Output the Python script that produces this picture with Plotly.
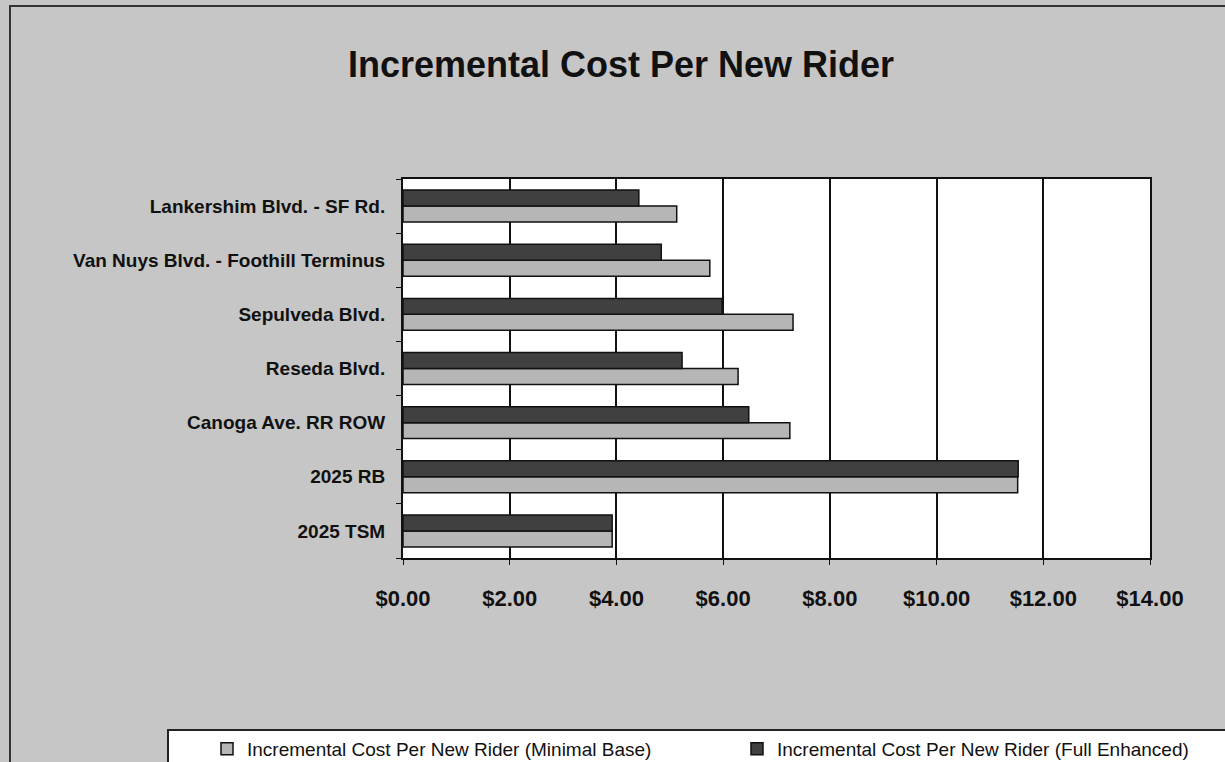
import plotly.graph_objects as go

# Categories listed top-to-bottom as in the chart
categories = [
    "Lankershim Blvd. - SF Rd.",
    "Van Nuys Blvd. - Foothill Terminus",
    "Sepulveda Blvd.",
    "Reseda Blvd.",
    "Canoga Ave. RR ROW",
    "2025 RB",
    "2025 TSM",
]
minimal_base = [5.13, 5.75, 7.31, 6.28, 7.25, 11.52, 3.92]
full_enhanced = [4.42, 4.84, 5.98, 5.23, 6.48, 11.53, 3.92]
x_ticks = [0, 2, 4, 6, 8, 10, 12, 14]
x_tick_labels = ["$0.00", "$2.00", "$4.00", "$6.00", "$8.00", "$10.00", "$12.00", "$14.00"]

series_names = [
    "Incremental Cost Per New Rider (Minimal Base)",
    "Incremental Cost Per New Rider (Full Enhanced)",
]

W, H = 1225, 762
L, R, T, B = 403, 1150, 179, 558
FONT = "Liberation Sans, Arial, sans-serif"


def px_x(p):
    return (p - L) / (R - L)


def px_y(p):
    return (B - p) / (B - T)


fig = go.Figure()
fig.add_trace(go.Bar(
    y=categories, x=minimal_base, orientation="h", name=series_names[0],
    marker=dict(color="#b6b6b6", line=dict(color="#111111", width=1.5)),
    legend="legend",
))
fig.add_trace(go.Bar(
    y=categories, x=full_enhanced, orientation="h", name=series_names[1],
    marker=dict(color="#404040", line=dict(color="#111111", width=1.5)),
    legend="legend2",
))

# legend background box extending beyond right/bottom edges
fig.add_shape(type="rect", xref="paper", yref="paper",
              x0=px_x(168), x1=px_x(1240), y0=px_y(780), y1=px_y(730),
              fillcolor="white", line=dict(color="#222222", width=2), layer="below")
# outer frame (top & left)
fig.add_shape(type="rect", xref="paper", yref="paper",
              x0=px_x(10), x1=px_x(1240), y0=px_y(780), y1=px_y(6),
              fillcolor="rgba(0,0,0,0)", line=dict(color="#333333", width=2), layer="below")

legend_common = dict(
    orientation="h", xanchor="left", yanchor="middle",
    bgcolor="rgba(0,0,0,0)", borderwidth=0,
    font=dict(size=19, color="#111111", family=FONT),
    itemclick=False, itemdoubleclick=False,
)

fig.update_layout(
    width=W, height=H,
    margin=dict(l=L, r=W - R, t=T, b=H - B, autoexpand=False),
    paper_bgcolor="#c6c6c6",
    plot_bgcolor="white",
    barmode="group",
    bargap=0.41,
    bargroupgap=0,
    title=dict(
        text="<b>Incremental Cost Per New Rider</b>",
        x=621 / W, xanchor="center", y=1 - 64 / H, yanchor="middle",
        font=dict(family=FONT, size=36, color="#111111"),
    ),
    font=dict(family=FONT, color="#111111"),
    showlegend=True,
    legend=dict(x=px_x(207), y=px_y(749), **legend_common),
    legend2=dict(x=px_x(737), y=px_y(749), **legend_common),
    xaxis=dict(
        range=[0, 14], tickvals=x_ticks, ticktext=x_tick_labels,
        showgrid=True, gridcolor="#111111", gridwidth=1.5,
        showline=True, linecolor="#111111", linewidth=2, mirror=True,
        ticks="outside", ticklen=5, tickcolor="#111111",
        ticklabelstandoff=15,
        tickfont=dict(size=22, color="#111111", family=FONT, weight="bold"),
        zeroline=False, fixedrange=True,
    ),
    yaxis=dict(
        categoryorder="array", categoryarray=categories[::-1],
        showline=True, linecolor="#111111", linewidth=2, mirror=True,
        ticks="outside", ticklen=5, tickcolor="#111111", tickson="boundaries",
        ticklabelstandoff=12,
        tickfont=dict(size=19, color="#111111", family=FONT, weight="bold"),
        showgrid=False, fixedrange=True,
    ),
)

fig.write_html(
    "out.html",
    config={"displayModeBar": False},
    post_script="document.body.style.margin='0';",
)
